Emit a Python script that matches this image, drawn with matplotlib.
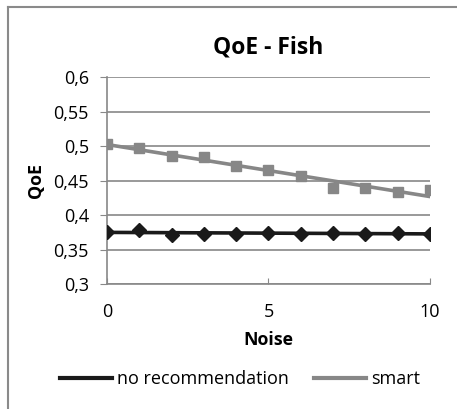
import numpy as np
import matplotlib.pyplot as plt
from matplotlib.lines import Line2D

plt.rcParams['font.family'] = ['Open Sans', 'DejaVu Sans']

noise = [0, 1, 2, 3, 4, 5, 6, 7, 8, 9, 10]
no_rec = [0.376, 0.378, 0.371, 0.373, 0.373, 0.374, 0.372, 0.374, 0.373, 0.374, 0.373]
smart = [0.503, 0.497, 0.485, 0.484, 0.471, 0.465, 0.456, 0.439, 0.439, 0.434, 0.436]
yticks = [0.3, 0.35, 0.4, 0.45, 0.5, 0.55, 0.6]
xticks = [0, 5, 10]

grid_col = '#888888'
smart_col = '#878787'
norec_col = '#1a1a1a'

fig = plt.figure(figsize=(4.57, 4.09), dpi=100)
ax = fig.add_axes([0.234, 0.3056, 0.707, 0.5061])

x = np.array(noise)
# linear trend lines
for vals, col, mk, ms in [(no_rec, norec_col, 'D', 7), (smart, smart_col, 's', 7)]:
    coef = np.polyfit(x, vals, 1)
    ax.plot(x, np.polyval(coef, x), color=col, lw=2.6, zorder=3)
    ax.plot(x, vals, ls='none', marker=mk, color=col, ms=ms, zorder=4)

ax.set_xlim(0, 10)
ax.set_ylim(0.3, 0.6)
ax.set_yticks(yticks)
ax.set_yticklabels([f'{v:g}'.replace('.', ',') for v in yticks])
ax.set_xticks(xticks)
ax.set_xticklabels([str(v) for v in xticks])
ax.grid(axis='y', color=grid_col, lw=1.2)
ax.set_axisbelow(True)
for s in ['top', 'right']:
    ax.spines[s].set_visible(False)
for s in ['left', 'bottom']:
    ax.spines[s].set_color(grid_col)
    ax.spines[s].set_linewidth(1.2)
ax.tick_params(axis='y', direction='out', length=5, color=grid_col, labelsize=13, pad=8)
ax.tick_params(axis='x', direction='in', length=4, color=grid_col, labelsize=13, pad=14)

ax.set_title('QoE - Fish', fontsize=16.5, fontweight='bold', pad=17)
ax.set_xlabel('Noise', fontsize=12.8, fontweight='bold', labelpad=7)
ax.set_ylabel('QoE', fontsize=12.8, fontweight='bold', labelpad=6)

handles = [Line2D([], [], color=norec_col, lw=3),
           Line2D([], [], color=smart_col, lw=3)]
fig.legend(handles, ['no recommendation', 'smart'], loc='center',
           bbox_to_anchor=(240 / 457, 1 - 379 / 409), ncol=2, frameon=False,
           fontsize=13, handlelength=2.9, handletextpad=0.28, columnspacing=1.4,
           borderpad=0, borderaxespad=0)

# chart frame (extends past the right/bottom edges)
fig.add_artist(Line2D([8 / 457, 8 / 457], [0, 1 - 7 / 409], color='#8a8a8a', lw=1.5))
fig.add_artist(Line2D([8 / 457, 1], [1 - 7 / 409, 1 - 7 / 409], color='#8a8a8a', lw=1.5))

fig.savefig('out.png', dpi=100)
